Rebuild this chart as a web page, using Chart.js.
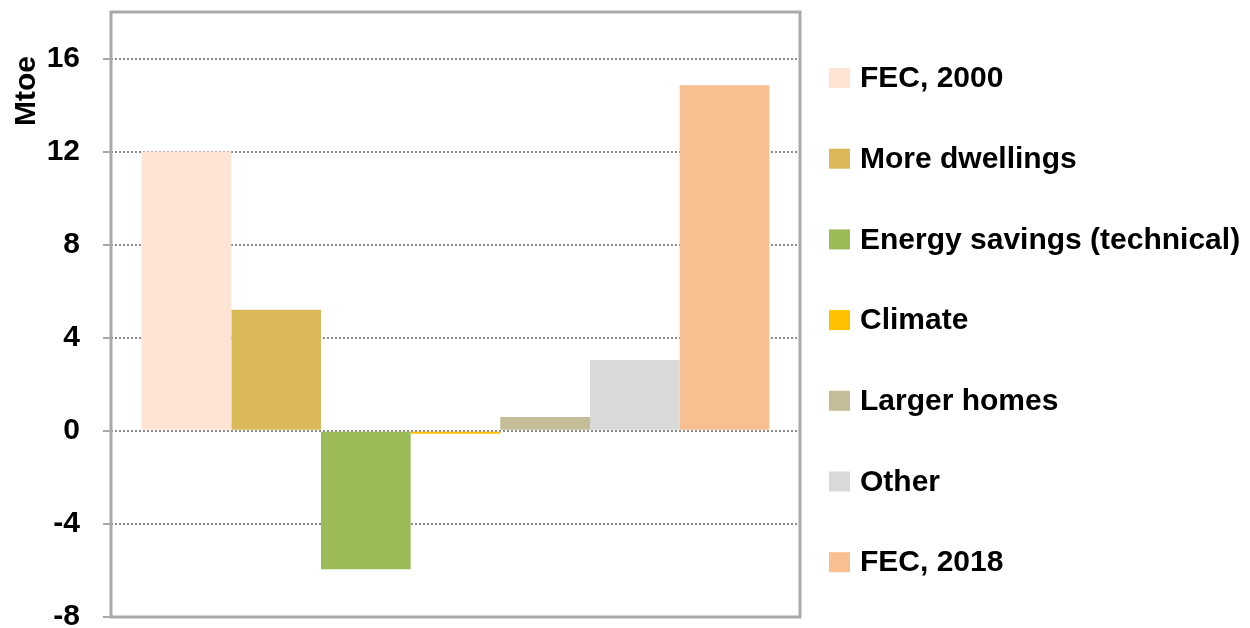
<!DOCTYPE html>
<html>
<head>
<meta charset="utf-8">
<script src="https://cdn.jsdelivr.net/npm/chart.js@4"></script>
<style>
  html, body { margin: 0; padding: 0; background: #fff; }
  #wrap { width: 1250px; height: 628px; }
</style>
</head>
<body>
<div id="wrap"><canvas id="chart"></canvas></div>
<script>
// values (Mtoe)
const series_labels = ['FEC, 2000', 'More dwellings', 'Energy savings (technical)', 'Climate', 'Larger homes', 'Other', 'FEC, 2018']
const series_values = [12.0, 5.2, -5.95, -0.13, 0.6, 3.05, 14.85]
const series_colors = ['#fde4d4', '#dcb958', '#9bbb59', '#ffc000', '#c4bd97', '#d9d9d9', '#f8c090']
const y_min = -8
const y_max = 18
const y_step = 4
const y_title = 'Mtoe'

Chart.defaults.font.family = '"Liberation Sans", Arial, sans-serif'
Chart.defaults.color = '#000'

// frame round the plot, the rotated axis title and the legend on the right
const extras = {
    id: 'extras',
    afterDatasetsDraw(chart) {
        const ctx = chart.ctx
        const a = chart.chartArea
        ctx.save()
        ctx.strokeStyle = '#a9a9a9'
        ctx.lineWidth = 3
        ctx.strokeRect(a.left, a.top, a.right - a.left, a.bottom - a.top)
        ctx.restore()
    },
    afterDraw(chart) {
        const ctx = chart.ctx
        ctx.save()
        ctx.fillStyle = '#000'
        ctx.font = 'bold 30px "Liberation Sans", Arial, sans-serif'

        ctx.save()
        ctx.translate(27, 91)
        ctx.rotate(-Math.PI / 2)
        ctx.textAlign = 'center'
        ctx.textBaseline = 'middle'
        ctx.fillText(y_title, 0, 0)
        ctx.restore()

        ctx.textAlign = 'left'
        ctx.textBaseline = 'middle'
        chart.data.datasets.forEach(function (ds, i) {
            const y = 78 + i * 80.7
            ctx.fillStyle = ds.backgroundColor
            ctx.fillRect(829, y - 10, 21, 20)
            ctx.fillStyle = '#000'
            ctx.fillText(ds.label, 860, y + 1)
        })
        ctx.restore()
    }
}

const datasets = series_labels.map(function (label, i) {
    return {
        label: label,
        data: [series_values[i]],
        backgroundColor: series_colors[i],
        borderWidth: 0,
        barPercentage: 1,
        categoryPercentage: 0.911
    }
})

new Chart(document.getElementById('chart'), {
    type: 'bar',
    data: { labels: [''], datasets: datasets },
    options: {
        responsive: true,
        maintainAspectRatio: false,
        animation: false,
        layout: { padding: { left: 0, right: 450, top: 12, bottom: 11 } },
        plugins: {
            legend: { display: false },
            tooltip: { enabled: false }
        },
        scales: {
            x: { display: false },
            y: {
                min: y_min,
                max: y_max,
                afterFit: function (s) {
                    s.width = 111
                    s.paddingTop = 0
                    s.paddingBottom = 0
                },
                ticks: {
                    stepSize: y_step,
                    includeBounds: false,
                    padding: 23,
                    font: { size: 30, weight: 'bold' },
                    color: '#000'
                },
                grid: {
                    color: '#8c8c8c',
                    lineWidth: 2,
                    tickLength: 8,
                    tickColor: '#a9a9a9',
                    tickWidth: 2
                },
                border: { display: false, dash: [2, 2] }
            }
        }
    },
    plugins: [extras]
})
</script>
</body>
</html>
